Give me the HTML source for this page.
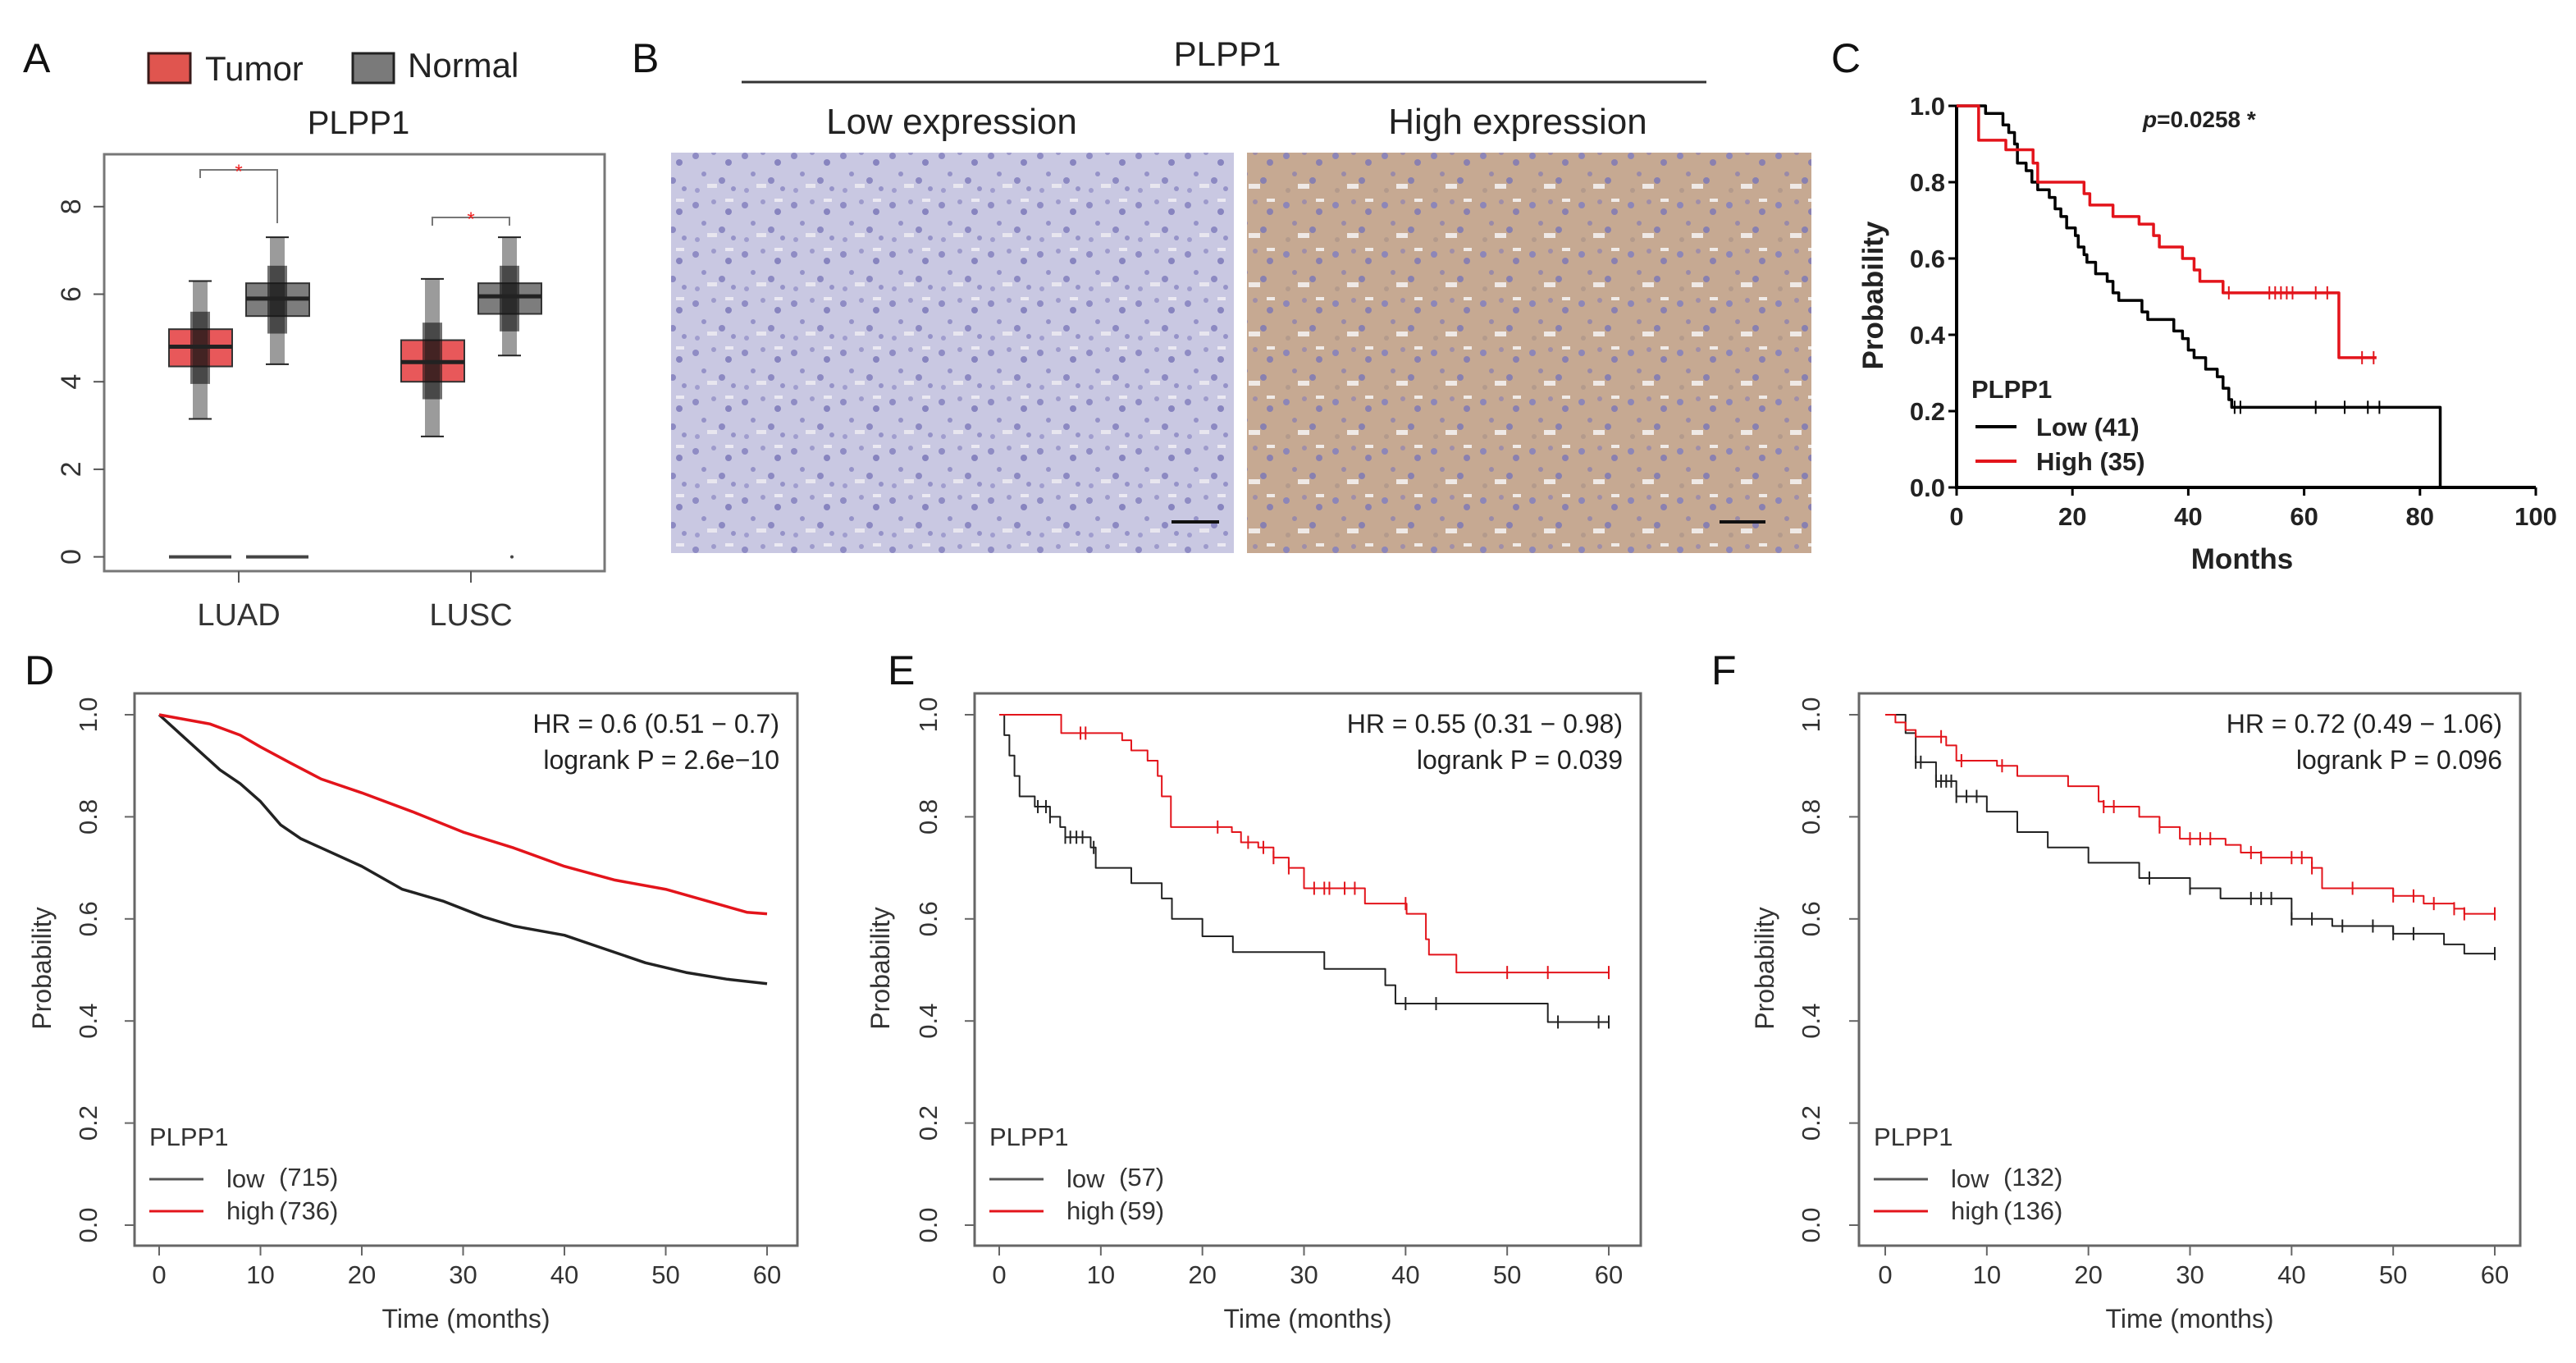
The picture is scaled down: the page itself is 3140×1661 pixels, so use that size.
<!DOCTYPE html>
<html><head><meta charset="utf-8">
<style>
html,body{margin:0;padding:0;background:#fff;}
#root{position:relative;width:3140px;height:1661px;overflow:hidden;background:#fff;font-family:"Liberation Sans",Arial,sans-serif;}
svg text{font-family:"Liberation Sans",Arial,sans-serif;}
</style></head>
<body>
<div id="root">
<svg id="fig" width="3140" height="1661" viewBox="0 0 3140 1661" xmlns="http://www.w3.org/2000/svg">
<defs>
<pattern id="tissueLow" width="60" height="60" patternUnits="userSpaceOnUse">
<rect width="60" height="60" fill="#c9c8e2"/>
<circle cx="8" cy="10" r="4" fill="#8f8cc4"/><circle cx="30" cy="6" r="3" fill="#9d9acb"/><circle cx="48" cy="18" r="4" fill="#8784bf"/>
<circle cx="18" cy="32" r="3" fill="#9592c8"/><circle cx="40" cy="40" r="4" fill="#8c89c2"/><circle cx="10" cy="52" r="3" fill="#a09dce"/>
<circle cx="54" cy="50" r="3" fill="#9592c8"/><rect x="22" y="44" width="12" height="5" fill="#e8e6ef"/><rect x="44" y="2" width="10" height="4" fill="#ebe9f2"/>
</pattern>
<pattern id="tissueHigh" width="60" height="60" patternUnits="userSpaceOnUse">
<rect width="60" height="60" fill="#c6a992"/>
<circle cx="8" cy="10" r="4" fill="#8d86b8"/><circle cx="30" cy="6" r="3" fill="#a08ea8"/><circle cx="48" cy="18" r="4" fill="#8a80b0"/>
<circle cx="18" cy="32" r="3" fill="#9a8aa8"/><circle cx="40" cy="40" r="4" fill="#8880b0"/><circle cx="10" cy="52" r="3" fill="#b39a8c"/>
<rect x="22" y="44" width="14" height="6" fill="#efe9e6"/><rect x="44" y="2" width="10" height="4" fill="#f0ebe8"/>
</pattern>
</defs>

<text x="28" y="88" font-size="50" fill="#111">A</text>
<text x="770" y="88" font-size="50" fill="#111">B</text>
<text x="2232" y="88" font-size="50" fill="#111">C</text>
<text x="30" y="834" font-size="50" fill="#111">D</text>
<text x="1082" y="834" font-size="50" fill="#111">E</text>
<text x="2086" y="834" font-size="50" fill="#111">F</text>

<g>
<rect x="181" y="65" width="51" height="36" fill="#e0554f" stroke="#3a1a1a" stroke-width="3"/>
<text x="250" y="98" font-size="42" fill="#222">Tumor</text>
<rect x="430" y="65" width="50" height="36" fill="#7a7a7a" stroke="#222" stroke-width="3"/>
<text x="497" y="94" font-size="42" fill="#222">Normal</text>
</g>
<text x="437" y="163" font-size="40" text-anchor="middle" fill="#222">PLPP1</text>
<g id="panelA"></g>

<g>
<text x="1496" y="80" font-size="42" text-anchor="middle" fill="#222">PLPP1</text>
<line x1="904" y1="100" x2="2080" y2="100" stroke="#333" stroke-width="3"/>
<text x="1160" y="163" font-size="44" text-anchor="middle" fill="#222">Low expression</text>
<text x="1850" y="163" font-size="44" text-anchor="middle" fill="#222">High expression</text>
<rect x="818" y="186" width="686" height="488" fill="url(#tissueLow)"/>
<rect x="1520" y="186" width="688" height="488" fill="url(#tissueHigh)"/>
<line x1="1428" y1="636" x2="1486" y2="636" stroke="#111" stroke-width="4"/>
<line x1="2096" y1="636" x2="2152" y2="636" stroke="#111" stroke-width="4"/>
</g>

<g id="panelC"></g>
<g id="panelD"></g>
<g id="panelE"></g>
<g id="panelF"></g>
</svg>
</div>
<script>
const boxGroups = ["LUAD", "LUSC"];
const tumorQ1 = [4.35, 4.0];
const tumorMed = [4.8, 4.45];
const tumorQ3 = [5.2, 4.95];
const tumorLo = [3.15, 2.75];
const tumorHi = [6.3, 6.35];
const normalQ1 = [5.5, 5.55];
const normalMed = [5.9, 5.95];
const normalQ3 = [6.25, 6.25];
const normalLo = [4.4, 4.6];
const normalHi = [7.3, 7.3];
const boxYTicks = [0, 2, 4, 6, 8];

const cTicksX = [0, 20, 40, 60, 80, 100];
const cTicksY = [0.0, 0.2, 0.4, 0.6, 0.8, 1.0];
const cLowT = [0, 4, 5, 8, 9, 10, 10.5, 12, 13, 14, 16, 17, 18, 19, 20.5, 21, 22, 22.5, 24, 26, 27, 28, 32, 33, 37.5, 39, 40, 41, 43, 45, 46, 47, 47.5, 83.5];
const cLowS = [1, 1, 0.98, 0.95, 0.93, 0.90, 0.85, 0.83, 0.80, 0.78, 0.76, 0.73, 0.71, 0.68, 0.66, 0.63, 0.61, 0.59, 0.56, 0.54, 0.51, 0.49, 0.46, 0.44, 0.41, 0.39, 0.36, 0.34, 0.31, 0.29, 0.26, 0.23, 0.21, 0];
const cLowCens = [48, 49, 62, 67, 71, 73];
const cHighT = [0, 3.8, 8.5, 13.2, 14, 22, 23, 27, 31.5, 34, 35, 39, 41, 42, 46, 66, 72.5];
const cHighS = [1, 0.91, 0.885, 0.85, 0.80, 0.77, 0.74, 0.71, 0.69, 0.66, 0.63, 0.60, 0.57, 0.54, 0.51, 0.34, 0.34];
const cHighCens = [47, 54, 55, 56, 57, 58, 62, 64, 70, 72];

const kmTicksX = [0, 10, 20, 30, 40, 50, 60];
const kmTicksY = [0.0, 0.2, 0.4, 0.6, 0.8, 1.0];
const dLowT = [0, 2, 4, 6, 8, 10, 12, 14, 16, 20, 24, 28, 32, 35, 40, 44, 48, 52, 56, 60];
const dLowS = [1, 0.964, 0.928, 0.892, 0.865, 0.83, 0.784, 0.757, 0.739, 0.703, 0.658, 0.635, 0.604, 0.586, 0.568, 0.541, 0.514, 0.495, 0.482, 0.473];
const dHighT = [0, 5, 8, 10, 13, 16, 20, 25, 30, 35, 40, 45, 50, 55, 58, 60];
const dHighS = [1, 0.982, 0.96, 0.937, 0.905, 0.874, 0.847, 0.81, 0.77, 0.739, 0.703, 0.676, 0.658, 0.63, 0.613, 0.61];

const eLowT = [0, 0.5, 1, 1.5, 2, 3.5, 5, 6, 6.5, 9, 9.5, 13, 16, 17, 20, 23, 32, 38, 39, 54, 60];
const eLowS = [1, 0.96, 0.92, 0.88, 0.84, 0.82, 0.80, 0.78, 0.76, 0.74, 0.70, 0.67, 0.64, 0.60, 0.566, 0.535, 0.502, 0.47, 0.434, 0.398, 0.398];
const eLowCens = [3.8, 4.6, 5, 6.5, 7, 7.6, 8.2, 9.3, 40, 43, 55, 59, 60];
const eHighT = [0, 6.1, 12.1, 13, 14.6, 15.6, 16, 16.9, 22.9, 23.8, 25.5, 27, 28.5, 30, 36, 40.1, 42, 42.3, 45, 60];
const eHighS = [1, 0.964, 0.95, 0.93, 0.91, 0.88, 0.84, 0.78, 0.77, 0.75, 0.74, 0.72, 0.70, 0.66, 0.63, 0.61, 0.56, 0.53, 0.495, 0.495];
const eHighCens = [8, 8.5, 21.5, 24.5, 26, 27, 28.5, 31, 32, 32.5, 34, 35, 40, 50, 54, 60];

const fLowT = [0, 2, 3, 5, 7, 10, 13, 16, 20, 25, 30, 33, 40, 44, 50, 55, 57, 60];
const fLowS = [1, 0.964, 0.907, 0.87, 0.84, 0.81, 0.77, 0.74, 0.71, 0.68, 0.66, 0.64, 0.60, 0.586, 0.571, 0.55, 0.532, 0.532];
const fLowCens = [3, 3.5, 5, 5.5, 6, 6.5, 7, 8, 9, 26, 30, 36, 37, 38, 40, 42, 45, 48, 50, 52, 60];
const fHighT = [0, 1, 2, 3, 6, 7, 11, 13, 18, 21, 21.5, 25, 27, 29, 33.5, 35, 37, 42, 43, 50, 53, 56, 57, 60];
const fHighS = [1, 0.985, 0.97, 0.957, 0.94, 0.91, 0.90, 0.88, 0.86, 0.83, 0.82, 0.80, 0.78, 0.757, 0.745, 0.73, 0.72, 0.70, 0.66, 0.645, 0.63, 0.62, 0.61, 0.61];
const fHighCens = [5.5, 7.5, 11.5, 21.5, 22.5, 27, 30, 31, 32, 36, 37, 40, 41, 42, 46, 50, 52, 54, 56, 57, 60];

const NS = "http://www.w3.org/2000/svg";
function mk(parent, tag, attrs, txt) {
  const e = document.createElementNS(NS, tag);
  for (const k in attrs) e.setAttribute(k, attrs[k]);
  if (txt !== undefined) e.textContent = txt;
  parent.appendChild(e);
  return e;
}

(function () {
  const g = document.getElementById("panelA");
  const y = v => 678.6 - v * 53.35;
  const gx = [291, 574];
  const frame = mk(g, "rect", { x: 127, y: 188, width: 610, height: 508, fill: "none", stroke: "#777", "stroke-width": 3 });
  
  
  boxYTicks.forEach(v => {
    mk(g, "line", { x1: 127, x2: 114, y1: y(v), y2: y(v), stroke: "#555", "stroke-width": 2 });
    const t = mk(g, "text", { x: 0, y: 0, "font-size": 34, fill: "#333", "text-anchor": "middle", transform: `translate(98 ${y(v)}) rotate(-90)` }, String(v));
    
    
  });
  boxGroups.forEach((name, i) => {
    const cx = gx[i];
    mk(g, "line", { x1: cx, x2: cx, y1: 696, y2: 710, stroke: "#555", "stroke-width": 2 });
    const lab = mk(g, "text", { x: cx, y: 762, "font-size": 38, fill: "#333", "text-anchor": "middle" }, name);
    
    
    const specs = [
      { c: cx - 47, q1: tumorQ1[i], m: tumorMed[i], q3: tumorQ3[i], lo: tumorLo[i], hi: tumorHi[i], fill: "#e8585a", nm: "tumor" },
      { c: cx + 47, q1: normalQ1[i], m: normalMed[i], q3: normalQ3[i], lo: normalLo[i], hi: normalHi[i], fill: "#7d7d7d", nm: "normal" }
    ];
    specs.forEach(s => {
      const bx = mk(g, "rect", { x: s.c - 38, y: y(s.q3), width: 77, height: y(s.q1) - y(s.q3), fill: s.fill, stroke: "#333", "stroke-width": 2 });
      
      
      const band = mk(g, "rect", { x: s.c - 9, y: y(s.hi), width: 18, height: y(s.lo) - y(s.hi), fill: "#222", opacity: 0.45 });
      
      
      mk(g, "rect", { x: s.c - 12, y: y(s.q3 + 0.4), width: 24, height: y(s.q1 - 0.4) - y(s.q3 + 0.4), fill: "#111", opacity: 0.6 });
      mk(g, "line", { x1: s.c - 38, x2: s.c + 39, y1: y(s.m), y2: y(s.m), stroke: "#222", "stroke-width": 5 });
      mk(g, "line", { x1: s.c - 14, x2: s.c + 14, y1: y(s.hi), y2: y(s.hi), stroke: "#222", "stroke-width": 2 });
      mk(g, "line", { x1: s.c - 14, x2: s.c + 14, y1: y(s.lo), y2: y(s.lo), stroke: "#222", "stroke-width": 2 });
    });
    if (i === 0) {
      mk(g, "line", { x1: cx - 85, x2: cx - 9, y1: y(0), y2: y(0), stroke: "#444", "stroke-width": 4 });
      mk(g, "line", { x1: cx + 9, x2: cx + 85, y1: y(0), y2: y(0), stroke: "#444", "stroke-width": 4 });
    } else {
      mk(g, "circle", { cx: cx + 50, cy: y(0), r: 2, fill: "#444" });
    }
    const top = i === 0 ? 207 : 265;
    const lx = cx - 47, rx = cx + 47;
    mk(g, "path", { d: `M${lx} ${top + 10} V${top} H${rx} V${i === 0 ? 272 : top + 10}`, fill: "none", stroke: "#777", "stroke-width": 2 });
    const st = mk(g, "text", { x: cx, y: top + 10, "font-size": 24, fill: "#e22", "text-anchor": "middle" }, "*");
    
    
  });
})();

function stepPath(T, S, x, y, linear) {
  let d = `M${x(T[0])} ${y(S[0])}`;
  for (let k = 1; k < T.length; k++) {
    d += linear ? ` L${x(T[k])} ${y(S[k])}` : ` H${x(T[k])} V${y(S[k])}`;
  }
  return d;
}
function survAt(T, S, t) {
  let s = S[0];
  for (let k = 0; k < T.length; k++) if (T[k] <= t) s = S[k];
  return s;
}
function drawSeries(g, T, S, cens, x, y, color, sw, name, linear) {
  const p = mk(g, "path", { d: stepPath(T, S, x, y, linear), fill: "none", stroke: color, "stroke-width": sw, "stroke-linejoin": "round" });
  
  
  (cens || []).forEach(t => {
    const s = survAt(T, S, t);
    const c = mk(g, "line", { x1: x(t), x2: x(t), y1: y(s) - 8, y2: y(s) + 8, stroke: color, "stroke-width": 2 });
    
    
  });
}

(function () {
  const g = document.getElementById("panelC");
  const x = t => 2385 + t * 7.06;
  const y = s => 594 - s * 465;
  const ax = mk(g, "path", { d: `M${x(0)} ${y(1)} V${y(0)} H${x(100)}`, fill: "none", stroke: "#000", "stroke-width": 4 });
  
  
  cTicksY.forEach(v => {
    mk(g, "line", { x1: x(0) - 10, x2: x(0), y1: y(v), y2: y(v), stroke: "#000", "stroke-width": 3 });
    const t = mk(g, "text", { x: x(0) - 14, y: y(v) + 11, "font-size": 31, "font-weight": "bold", fill: "#222", "text-anchor": "end" }, v.toFixed(1));
    
    
  });
  cTicksX.forEach(v => {
    mk(g, "line", { x1: x(v), x2: x(v), y1: y(0), y2: y(0) + 10, stroke: "#000", "stroke-width": 3 });
    const t = mk(g, "text", { x: x(v), y: 640, "font-size": 31, "font-weight": "bold", fill: "#222", "text-anchor": "middle" }, String(v));
    
    
  });
  const xt = mk(g, "text", { x: 2733, y: 693, "font-size": 35, "font-weight": "bold", fill: "#222", "text-anchor": "middle" }, "Months");
  
  
  const yt = mk(g, "text", { x: 0, y: 0, "font-size": 35, "font-weight": "bold", fill: "#222", "text-anchor": "middle", transform: "translate(2295 360) rotate(-90)" }, "Probability");
  
  
  const pv = mk(g, "text", { x: 2612, y: 155, "font-size": 28, "font-weight": "bold", fill: "#222" }, "");
  pv.innerHTML = '<tspan font-style="italic">p</tspan>=0.0258 *';
  
  
  drawSeries(g, cLowT, cLowS, cLowCens, x, y, "#000", 3.5, "c-low-curve", false);
  drawSeries(g, cHighT, cHighS, cHighCens, x, y, "#e3141b", 3.5, "c-high-curve", false);
  const lt = mk(g, "text", { x: 2403, y: 485, "font-size": 31, "font-weight": "bold", fill: "#222" }, "PLPP1");
  
  
  mk(g, "line", { x1: 2408, x2: 2458, y1: 520, y2: 520, stroke: "#000", "stroke-width": 4 });
  const l1 = mk(g, "text", { x: 2482, y: 531, "font-size": 31, "font-weight": "bold", fill: "#222" }, "Low (41)");
  
  
  mk(g, "line", { x1: 2408, x2: 2458, y1: 562, y2: 562, stroke: "#e3141b", "stroke-width": 4 });
  const l2 = mk(g, "text", { x: 2482, y: 573, "font-size": 31, "font-weight": "bold", fill: "#222" }, "High (35)");
  
  
})();

function kmPanel(id, fx0, fx1, x0, x60, lowT, lowS, lowCens, highT, highS, highCens, hr, lr, nLow, nHigh, ylabX, yTitleX, sw, linear) {
  const g = document.getElementById(id);
  const x = t => x0 + t * (x60 - x0) / 60;
  const y = s => 1493 - s * 622;
  const fr = mk(g, "rect", { x: fx0, y: 845, width: fx1 - fx0, height: 673, fill: "none", stroke: "#666", "stroke-width": 3 });
  
  
  kmTicksY.forEach(v => {
    mk(g, "line", { x1: fx0 - 12, x2: fx0, y1: y(v), y2: y(v), stroke: "#666", "stroke-width": 2 });
    const t = mk(g, "text", { x: 0, y: 0, "font-size": 31, fill: "#333", "text-anchor": "middle", transform: `translate(${ylabX} ${y(v)}) rotate(-90)` }, v.toFixed(1));
    
    
  });
  kmTicksX.forEach(v => {
    mk(g, "line", { x1: x(v), x2: x(v), y1: 1518, y2: 1530, stroke: "#666", "stroke-width": 2 });
    const t = mk(g, "text", { x: x(v), y: 1564, "font-size": 31, fill: "#333", "text-anchor": "middle" }, String(v));
    
    
  });
  const xt = mk(g, "text", { x: (fx0 + fx1) / 2, y: 1618, "font-size": 32, fill: "#333", "text-anchor": "middle" }, "Time (months)");
  
  
  const yt = mk(g, "text", { x: 0, y: 0, "font-size": 32, fill: "#333", "text-anchor": "middle", transform: `translate(${yTitleX} 1180) rotate(-90)` }, "Probability");
  
  
  const h1 = mk(g, "text", { x: fx1 - 22, y: 893, "font-size": 32, fill: "#222", "text-anchor": "end" }, hr);
  
  
  const h2 = mk(g, "text", { x: fx1 - 22, y: 937, "font-size": 32, fill: "#222", "text-anchor": "end" }, lr);
  
  
  drawSeries(g, lowT, lowS, lowCens, x, y, "#222", sw, id + "-low-curve", linear);
  drawSeries(g, highT, highS, highCens, x, y, "#e3141b", sw, id + "-high-curve", linear);
  const lt = mk(g, "text", { x: fx0 + 18, y: 1396, "font-size": 31, fill: "#333" }, "PLPP1");
  
  
  mk(g, "line", { x1: fx0 + 18, x2: fx0 + 84, y1: 1437, y2: 1437, stroke: "#555", "stroke-width": 3 });
  mk(g, "line", { x1: fx0 + 18, x2: fx0 + 84, y1: 1476, y2: 1476, stroke: "#e3141b", "stroke-width": 3 });
  const a = mk(g, "text", { x: fx0 + 112, y: 1447, "font-size": 31, fill: "#333" }, "low");
  
  
  const b = mk(g, "text", { x: fx0 + 176, y: 1445, "font-size": 31, fill: "#333" }, "(" + nLow + ")");
  
  
  const c = mk(g, "text", { x: fx0 + 112, y: 1486, "font-size": 31, fill: "#333" }, "high");
  
  
  const d = mk(g, "text", { x: fx0 + 176, y: 1486, "font-size": 31, fill: "#333" }, "(" + nHigh + ")");
  
  
}
kmPanel("panelD", 164, 972, 194, 935, dLowT, dLowS, [], dHighT, dHighS, [], "HR = 0.6 (0.51 \u2212 0.7)", "logrank P = 2.6e\u221210", 715, 736, 118, 62, 3.5, true);
kmPanel("panelE", 1188, 2000, 1218, 1961, eLowT, eLowS, eLowCens, eHighT, eHighS, eHighCens, "HR = 0.55 (0.31 \u2212 0.98)", "logrank P = 0.039", 57, 59, 1142, 1084, 2, false);
kmPanel("panelF", 2266, 3072, 2298, 3041, fLowT, fLowS, fLowCens, fHighT, fHighS, fHighCens, "HR = 0.72 (0.49 \u2212 1.06)", "logrank P = 0.096", 132, 136, 2218, 2162, 2, false);
</script>
</body></html>
